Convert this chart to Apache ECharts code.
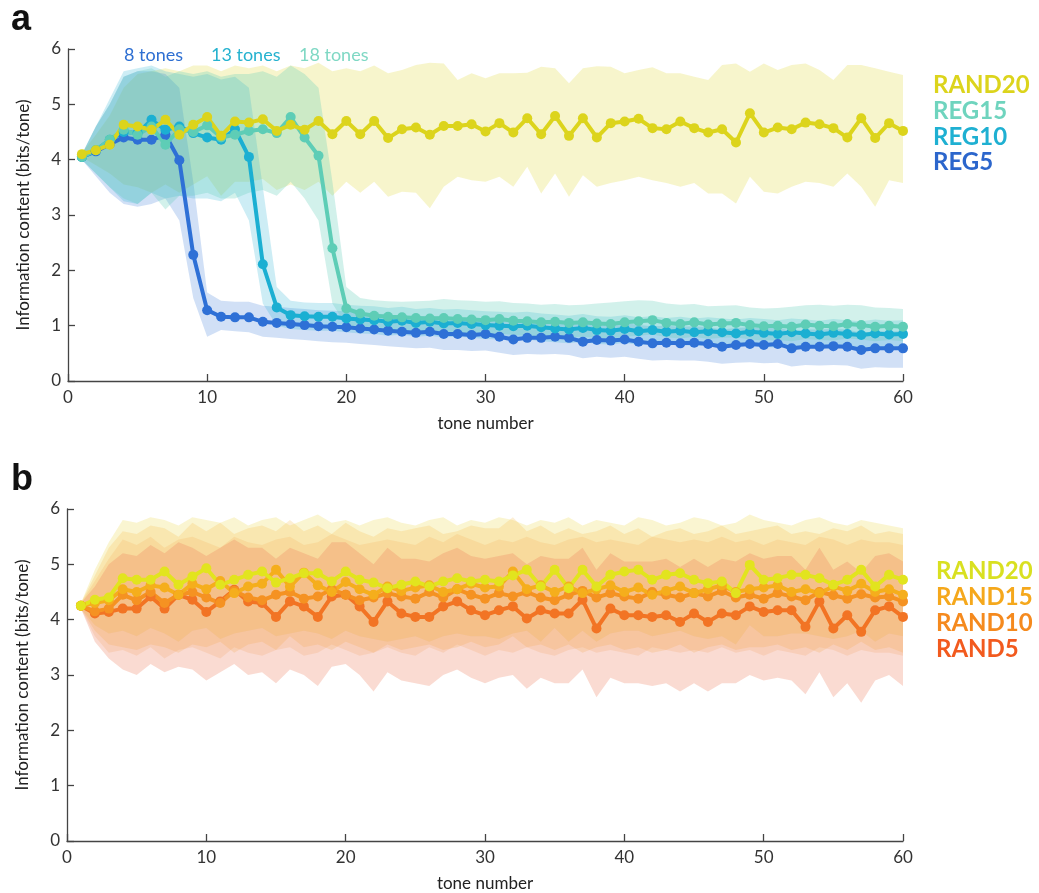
<!DOCTYPE html>
<html><head><meta charset="utf-8">
<script src="https://cdn.jsdelivr.net/npm/echarts@6/dist/echarts.min.js"></script>
<style>html,body{margin:0;padding:0;background:#fff}#c{width:1039px;height:893px}</style>
</head><body><div id="c"></div>
<script>
// ---------- shared ----------
const tones = [1,2,3,4,5,6,7,8,9,10,11,12,13,14,15,16,17,18,19,20,21,22,23,24,25,26,27,28,29,30,31,32,33,34,35,36,37,38,39,40,41,42,43,44,45,46,47,48,49,50,51,52,53,54,55,56,57,58,59,60];
const xTicks = [0,10,20,30,40,50,60];
const yTicks = [0,1,2,3,4,5,6];

// ---------- panel a ----------
const rand20A = [4.10,4.17,4.27,4.63,4.60,4.54,4.72,4.45,4.63,4.77,4.43,4.69,4.67,4.73,4.52,4.63,4.54,4.70,4.46,4.70,4.46,4.70,4.39,4.55,4.58,4.45,4.61,4.61,4.64,4.51,4.66,4.49,4.75,4.46,4.79,4.43,4.75,4.40,4.66,4.69,4.74,4.57,4.55,4.69,4.57,4.49,4.55,4.31,4.84,4.49,4.58,4.55,4.67,4.64,4.57,4.40,4.75,4.39,4.66,4.52];
const rand20AHi = [4.12,4.45,4.80,5.30,5.55,5.60,5.65,5.60,5.70,5.70,5.60,5.70,5.65,5.70,5.60,5.70,5.65,5.75,5.60,5.65,5.60,5.70,5.56,5.62,5.71,5.75,5.74,5.44,5.56,5.47,5.56,5.56,5.57,5.68,5.65,5.38,5.65,5.69,5.68,5.56,5.62,5.67,5.56,5.56,5.50,5.44,5.71,5.74,5.59,5.74,5.62,5.71,5.74,5.62,5.44,5.71,5.71,5.65,5.59,5.53];
const rand20ALo = [4.05,3.90,3.75,3.55,3.50,3.40,3.55,3.40,3.55,3.70,3.35,3.60,3.60,3.65,3.45,3.55,3.45,3.60,3.35,3.60,3.40,3.60,3.33,3.42,3.40,3.12,3.51,3.69,3.63,3.60,3.69,3.51,3.87,3.39,3.75,3.33,3.72,3.51,3.58,3.63,3.69,3.63,3.58,3.51,3.58,3.39,3.39,3.21,3.69,3.42,3.39,3.51,3.60,3.58,3.51,3.75,3.51,3.15,3.63,3.58];

const reg5A = [4.05,4.15,4.28,4.40,4.36,4.36,4.45,3.99,2.28,1.28,1.16,1.15,1.15,1.07,1.05,1.03,1.01,0.99,0.98,0.97,0.95,0.93,0.91,0.89,0.87,0.89,0.85,0.85,0.83,0.85,0.80,0.75,0.78,0.78,0.80,0.78,0.71,0.74,0.73,0.75,0.71,0.68,0.69,0.68,0.69,0.67,0.62,0.65,0.67,0.65,0.67,0.59,0.62,0.62,0.63,0.62,0.56,0.59,0.59,0.59];
const reg5AHi = [4.1,4.6,5.0,5.5,5.6,5.6,5.55,5.3,3.6,1.6,1.45,1.43,1.43,1.36,1.34,1.32,1.30,1.28,1.27,1.26,1.24,1.22,1.20,1.18,1.17,1.18,1.15,1.15,1.13,1.14,1.10,1.06,1.08,1.08,1.10,1.08,1.02,1.04,1.03,1.05,1.01,0.99,1.00,0.98,0.99,0.97,0.93,0.96,0.97,0.95,0.97,0.90,0.93,0.93,0.94,0.93,0.87,0.90,0.90,0.90];
const reg5ALo = [4.0,3.7,3.4,3.2,3.15,3.2,3.3,2.9,1.5,0.8,0.92,0.9,0.88,0.8,0.78,0.76,0.74,0.72,0.70,0.69,0.67,0.65,0.63,0.61,0.59,0.60,0.56,0.56,0.54,0.55,0.51,0.47,0.49,0.48,0.49,0.47,0.41,0.44,0.42,0.44,0.40,0.37,0.38,0.37,0.37,0.35,0.31,0.33,0.34,0.32,0.33,0.26,0.29,0.28,0.29,0.28,0.22,0.25,0.24,0.24];

const reg10A = [4.05,4.17,4.36,4.50,4.48,4.72,4.54,4.60,4.48,4.40,4.36,4.55,4.05,2.11,1.33,1.19,1.17,1.16,1.16,1.13,1.11,1.10,1.07,1.09,1.05,1.07,1.04,1.05,1.03,1.01,1.00,0.99,1.00,0.97,0.95,0.93,0.96,0.92,0.91,0.94,0.90,0.92,0.89,0.91,0.88,0.90,0.88,0.86,0.89,0.87,0.85,0.88,0.86,0.84,0.87,0.85,0.83,0.86,0.84,0.85];
const reg10AHi = [4.1,4.6,5.1,5.6,5.65,5.7,5.6,5.55,5.5,5.55,5.45,5.5,5.3,3.5,1.7,1.45,1.42,1.41,1.41,1.38,1.36,1.35,1.32,1.34,1.30,1.32,1.29,1.30,1.28,1.26,1.25,1.24,1.25,1.22,1.20,1.18,1.21,1.17,1.16,1.19,1.15,1.17,1.14,1.16,1.13,1.15,1.13,1.11,1.14,1.12,1.10,1.13,1.11,1.09,1.12,1.10,1.08,1.11,1.09,1.10];
const reg10ALo = [4.0,3.75,3.5,3.25,3.2,3.4,3.3,3.35,3.3,3.3,3.25,3.4,2.9,1.4,1.0,0.94,0.92,0.91,0.91,0.88,0.86,0.85,0.82,0.84,0.80,0.82,0.79,0.80,0.78,0.76,0.75,0.74,0.75,0.72,0.70,0.68,0.71,0.67,0.66,0.69,0.65,0.67,0.64,0.66,0.63,0.65,0.63,0.61,0.64,0.62,0.60,0.63,0.61,0.59,0.62,0.60,0.58,0.61,0.59,0.60];

const reg15A = [4.05,4.17,4.36,4.54,4.45,4.60,4.27,4.55,4.50,4.62,4.40,4.45,4.52,4.55,4.48,4.77,4.40,4.07,2.40,1.31,1.22,1.18,1.16,1.15,1.14,1.13,1.14,1.12,1.11,1.10,1.12,1.09,1.08,1.06,1.07,1.05,1.06,1.04,1.03,1.06,1.08,1.10,1.05,1.03,1.06,1.02,1.04,1.05,1.01,0.99,1.00,0.98,1.02,1.00,0.99,1.03,1.01,0.98,1.00,0.98];
const reg15AHi = [4.1,4.6,5.0,5.5,5.6,5.65,5.5,5.6,5.55,5.6,5.5,5.55,5.55,5.6,5.5,5.7,5.55,5.3,3.6,1.7,1.5,1.46,1.44,1.43,1.44,1.45,1.48,1.46,1.45,1.43,1.44,1.41,1.40,1.38,1.39,1.37,1.38,1.40,1.42,1.44,1.46,1.45,1.40,1.38,1.39,1.35,1.36,1.37,1.33,1.31,1.32,1.34,1.37,1.38,1.36,1.38,1.37,1.33,1.32,1.30];
const reg15ALo = [4.0,3.75,3.5,3.3,3.2,3.4,3.1,3.35,3.35,3.4,3.3,3.3,3.4,3.45,3.35,3.6,3.3,2.9,1.4,1.0,0.95,0.92,0.90,0.89,0.88,0.87,0.88,0.86,0.85,0.84,0.86,0.83,0.82,0.80,0.81,0.79,0.80,0.78,0.77,0.80,0.82,0.84,0.79,0.77,0.80,0.76,0.78,0.79,0.75,0.73,0.74,0.72,0.76,0.74,0.73,0.77,0.75,0.72,0.74,0.72];

// ---------- panel b ----------
const rand20B = [4.25,4.36,4.40,4.75,4.72,4.72,4.87,4.63,4.78,4.93,4.63,4.72,4.81,4.87,4.67,4.75,4.84,4.84,4.69,4.87,4.72,4.67,4.57,4.63,4.69,4.60,4.69,4.75,4.69,4.72,4.69,4.80,4.90,4.60,4.90,4.57,4.90,4.60,4.81,4.87,4.90,4.72,4.81,4.84,4.72,4.66,4.69,4.48,4.99,4.72,4.75,4.81,4.81,4.75,4.63,4.72,4.90,4.60,4.81,4.72];
const rand20BHi = [4.3,4.9,5.4,5.8,5.75,5.85,5.8,5.7,5.85,5.8,5.75,5.85,5.7,5.8,5.85,5.7,5.8,5.9,5.75,5.8,5.7,5.8,5.85,5.75,5.7,5.8,5.85,5.7,5.8,5.75,5.85,5.8,5.7,5.8,5.75,5.85,5.7,5.8,5.75,5.7,5.85,5.8,5.7,5.75,5.85,5.8,5.7,5.75,5.9,5.8,5.75,5.7,5.8,5.85,5.75,5.7,5.8,5.75,5.7,5.65];
const rand20BLo = [4.2,3.9,3.75,3.8,3.7,3.85,3.75,3.6,3.8,3.85,3.65,3.75,3.8,3.85,3.7,3.75,3.8,3.75,3.65,3.8,3.7,3.65,3.6,3.65,3.7,3.6,3.7,3.75,3.7,3.7,3.65,3.75,3.8,3.6,3.85,3.6,3.8,3.6,3.75,3.8,3.8,3.7,3.75,3.8,3.7,3.65,3.7,3.55,3.9,3.7,3.7,3.75,3.75,3.7,3.65,3.7,3.8,3.6,3.75,3.7];

const rand15B = [4.25,4.30,4.35,4.55,4.50,4.62,4.58,4.45,4.65,4.55,4.70,4.48,4.60,4.65,4.90,4.60,4.85,4.62,4.50,4.68,4.55,4.45,4.60,4.52,4.58,4.62,4.50,4.55,4.65,4.58,4.60,4.87,4.55,4.62,4.50,4.60,4.48,4.55,4.62,4.50,4.58,4.45,4.52,4.60,4.48,4.55,4.62,4.50,4.55,4.58,4.62,4.50,4.55,4.48,4.60,4.52,4.65,4.50,4.55,4.45];
const rand15BHi = [4.3,4.8,5.3,5.6,5.55,5.7,5.65,5.5,5.75,5.6,5.75,5.55,5.65,5.7,5.6,5.8,5.6,5.7,5.55,5.75,5.6,5.5,5.65,5.6,5.65,5.7,5.55,5.6,5.7,5.65,5.65,5.85,5.6,5.7,5.55,5.65,5.55,5.6,5.7,5.55,5.65,5.5,5.6,5.65,5.55,5.6,5.7,5.55,5.6,5.65,5.7,5.55,5.6,5.55,5.65,5.6,5.7,5.55,5.6,5.55];
const rand15BLo = [4.2,3.8,3.55,3.5,3.45,3.55,3.5,3.4,3.55,3.5,3.6,3.4,3.55,3.6,3.45,3.7,3.5,3.55,3.45,3.6,3.5,3.4,3.55,3.45,3.5,3.55,3.45,3.5,3.6,3.5,3.55,3.7,3.5,3.55,3.45,3.55,3.4,3.5,3.55,3.45,3.5,3.4,3.45,3.55,3.4,3.5,3.55,3.45,3.5,3.5,3.55,3.45,3.5,3.4,3.55,3.45,3.6,3.45,3.5,3.4];

const rand10B = [4.25,4.15,4.20,4.45,4.35,4.50,4.30,4.45,4.50,4.40,4.30,4.52,4.40,4.35,4.45,4.50,4.38,4.42,4.55,4.45,4.35,4.40,4.48,4.42,4.38,4.50,4.40,4.55,4.45,4.38,4.48,4.42,4.50,4.40,4.35,4.45,4.52,4.40,4.48,4.42,4.38,4.50,4.45,4.40,4.48,4.42,4.52,4.40,4.45,4.38,4.48,4.42,4.35,4.50,4.44,4.38,4.46,4.40,4.42,4.33];
const rand10BHi = [4.3,4.7,5.1,5.45,5.35,5.5,5.3,5.45,5.5,5.4,5.3,5.5,5.4,5.35,5.45,5.5,5.35,5.4,5.55,5.45,5.35,5.4,5.45,5.4,5.35,5.5,5.4,5.55,5.45,5.35,5.45,5.4,5.5,5.4,5.35,5.45,5.5,5.4,5.45,5.4,5.35,5.5,5.45,5.4,5.45,5.4,5.5,5.4,5.45,5.35,5.45,5.4,5.35,5.5,5.45,5.35,5.45,5.4,5.4,5.35];
const rand10BLo = [4.2,3.7,3.4,3.45,3.35,3.5,3.3,3.45,3.5,3.4,3.3,3.5,3.4,3.35,3.45,3.5,3.35,3.4,3.55,3.45,3.35,3.4,3.5,3.4,3.35,3.5,3.4,3.55,3.45,3.35,3.45,3.4,3.5,3.4,3.35,3.45,3.5,3.4,3.45,3.4,3.35,3.5,3.45,3.4,3.45,3.4,3.5,3.4,3.45,3.35,3.45,3.4,3.35,3.5,3.45,3.35,3.45,3.4,3.4,3.35];

const rand5B = [4.25,4.11,4.14,4.20,4.20,4.42,4.20,4.45,4.36,4.14,4.33,4.54,4.33,4.30,4.05,4.33,4.24,4.05,4.42,4.45,4.24,3.96,4.33,4.11,4.05,4.05,4.24,4.33,4.17,4.08,4.17,4.24,4.02,4.17,4.11,4.11,4.36,3.84,4.20,4.08,4.08,4.05,4.08,3.96,4.11,3.96,4.11,4.08,4.24,4.14,4.17,4.17,3.87,4.33,3.84,4.08,3.78,4.17,4.24,4.05];
const rand5BHi = [4.3,4.6,5.0,5.2,5.15,5.35,5.2,5.4,5.3,5.15,5.3,5.45,5.3,5.3,5.1,5.3,5.2,5.1,5.4,5.4,5.2,5.0,5.3,5.1,5.1,5.05,5.2,5.3,5.15,5.1,5.15,5.2,5.0,5.15,5.1,5.1,5.3,4.9,5.2,5.05,5.05,5.05,5.1,4.95,5.1,4.95,5.1,5.05,5.2,5.1,5.15,5.15,4.9,5.3,4.9,5.05,4.85,5.15,5.2,5.05];
const rand5BLo = [4.2,3.6,3.3,3.1,3.0,3.2,3.05,3.15,3.1,2.9,3.05,3.2,3.0,3.05,2.85,3.1,3.0,2.8,3.15,3.2,3.0,2.7,3.05,2.9,2.85,2.8,3.0,3.1,2.95,2.85,2.95,3.0,2.75,2.95,2.85,2.85,3.1,2.6,2.95,2.85,2.85,2.8,2.85,2.7,2.85,2.7,2.85,2.85,3.0,2.9,2.95,2.9,2.65,3.05,2.6,2.85,2.5,2.9,3.0,2.8];

// ---------- chart ----------
const FONT = 'Lato, "Open Sans", sans-serif';
const AXC = '#444';
const chart = echarts.init(document.getElementById('c'), null, {renderer:'canvas', width:1039, height:893});

// shaded band: one polygon (upper edge forward, lower edge back) placed through the axis scales
function bandSeries(id, lo, hi, color, opacity, ax) {
  return {
    type:'custom', id:id, xAxisIndex:ax, yAxisIndex:ax, silent:true, z:1,
    data: tones.map((t,i)=>[t, lo[i], hi[i]]),
    encode:{x:0, y:[1,2]},
    renderItem: function(params, api) {
      if (params.dataIndex !== 0) return null;
      const pts = [];
      for (let i = 0; i < tones.length; i++) pts.push(api.coord([tones[i], hi[i]]));
      for (let i = tones.length - 1; i >= 0; i--) pts.push(api.coord([tones[i], lo[i]]));
      return {type:'polygon', shape:{points:pts}, style:{fill:color, opacity:opacity}, silent:true};
    }
  };
}
function lineSeries(name, vals, color, ax) {
  return {type:'line', name:name, xAxisIndex:ax, yAxisIndex:ax,
    data: tones.map((t,i)=>[t, vals[i]]), symbol:'circle', symbolSize:10, showSymbol:true,
    lineStyle:{width:4, color:color}, itemStyle:{color:color}, silent:true, z:3};
}
function xAx(gi) {
  return {type:'value', gridIndex:gi, min:xTicks[0], max:xTicks[xTicks.length-1], interval:10,
    name:'tone number', nameLocation:'middle', nameGap:34,
    nameTextStyle:{fontFamily:FONT, fontSize:17, color:'#222'},
    axisLine:{show:true, onZero:false, lineStyle:{color:AXC, width:1.3}},
    axisTick:{show:true, inside:true, length:7, lineStyle:{color:AXC, width:1.3}},
    axisLabel:{fontFamily:FONT, fontSize:17, color:'#333', margin:8,
      formatter:v=>xTicks.includes(v)?String(v):''},
    splitLine:{show:false}};
}
function yAx(gi) {
  return {type:'value', gridIndex:gi, min:yTicks[0], max:yTicks[yTicks.length-1], interval:1,
    name:'Information content (bits/tone)', nameLocation:'middle', nameGap:36,
    nameTextStyle:{fontFamily:FONT, fontSize:17, color:'#222'},
    axisLine:{show:true, onZero:false, lineStyle:{color:AXC, width:1.3}},
    axisTick:{show:true, inside:true, length:7, lineStyle:{color:AXC, width:1.3}},
    axisLabel:{fontFamily:FONT, fontSize:17, color:'#333', margin:7,
      formatter:v=>yTicks.includes(v)?String(v):''},
    splitLine:{show:false}};
}
function txt(text, x, y, color, size, weight, family) {
  return {type:'text', x:x, y:y, silent:true, z:10,
    style:{text:text, fill:color, font:(weight||'normal')+' '+size+'px '+(family||FONT),
      textAlign:'left', textVerticalAlign:'middle', align:'left', verticalAlign:'middle'}};
}

const C = {
  rand20A:'#dcd41c', reg15:'#5ecdb6', reg10:'#1bafd2', reg5:'#2e70d6',
  rand20B:'#e2e41e', rand15B:'#f5ae1c', rand10B:'#f59222', rand5B:'#f27424'
};

const series = [
  bandSeries('bA20', rand20ALo, rand20AHi, '#ebe47a', 0.38, 0),
  bandSeries('bA5', reg5ALo, reg5AHi, '#2e70d6', 0.22, 0),
  bandSeries('bA10', reg10ALo, reg10AHi, '#1bafd2', 0.22, 0),
  bandSeries('bA15', reg15ALo, reg15AHi, '#5ecdb6', 0.28, 0),
  lineSeries('REG5', reg5A, C.reg5, 0),
  lineSeries('REG10', reg10A, C.reg10, 0),
  lineSeries('REG15', reg15A, C.reg15, 0),
  lineSeries('RAND20', rand20A, C.rand20A, 0),
  bandSeries('bB20', rand20BLo, rand20BHi, '#eedc5a', 0.28, 1),
  bandSeries('bB15', rand15BLo, rand15BHi, '#f5b23a', 0.21, 1),
  bandSeries('bB10', rand10BLo, rand10BHi, '#f5a040', 0.18, 1),
  bandSeries('bB5', rand5BLo, rand5BHi, '#ee7a58', 0.27, 1),
  lineSeries('RAND5', rand5B, C.rand5B, 1),
  lineSeries('RAND10', rand10B, C.rand10B, 1),
  lineSeries('RAND15', rand15B, C.rand15B, 1),
  lineSeries('RAND20b', rand20B, C.rand20B, 1)
];

chart.setOption({
  animation:false,
  backgroundColor:'#fff',
  grid:[
    {left:68, top:49, width:835, height:332},
    {left:67, top:509, width:836, height:333}
  ],
  xAxis:[xAx(0), xAx(1)],
  yAxis:[yAx(0), yAx(1)],
  series: series,
  graphic:[
    txt('a', 11, 20, '#111', 36, 'bold', '"Liberation Sans", Arial, sans-serif'),
    txt('b', 11, 480, '#111', 36, 'bold', '"Liberation Sans", Arial, sans-serif'),
    txt('8 tones', 124, 55, '#2e6fd2', 18),
    txt('13 tones', 211, 55, '#25b2cf', 18),
    txt('18 tones', 299, 55, '#7fd8c4', 18),
    txt('RAND20', 933, 85, '#dcd41c', 24, 'bold'),
    txt('REG15', 933, 111, '#6fd4be', 24, 'bold'),
    txt('REG10', 933, 137, '#1fb0d2', 24, 'bold'),
    txt('REG5', 933, 162, '#2c66cc', 24, 'bold'),
    txt('RAND20', 936, 571, '#d9e021', 24, 'bold'),
    txt('RAND15', 936, 597, '#f5a81c', 24, 'bold'),
    txt('RAND10', 936, 623, '#f58a1e', 24, 'bold'),
    txt('RAND5', 936, 649, '#f25a1e', 24, 'bold')
  ]
});
</script>
</body></html>
